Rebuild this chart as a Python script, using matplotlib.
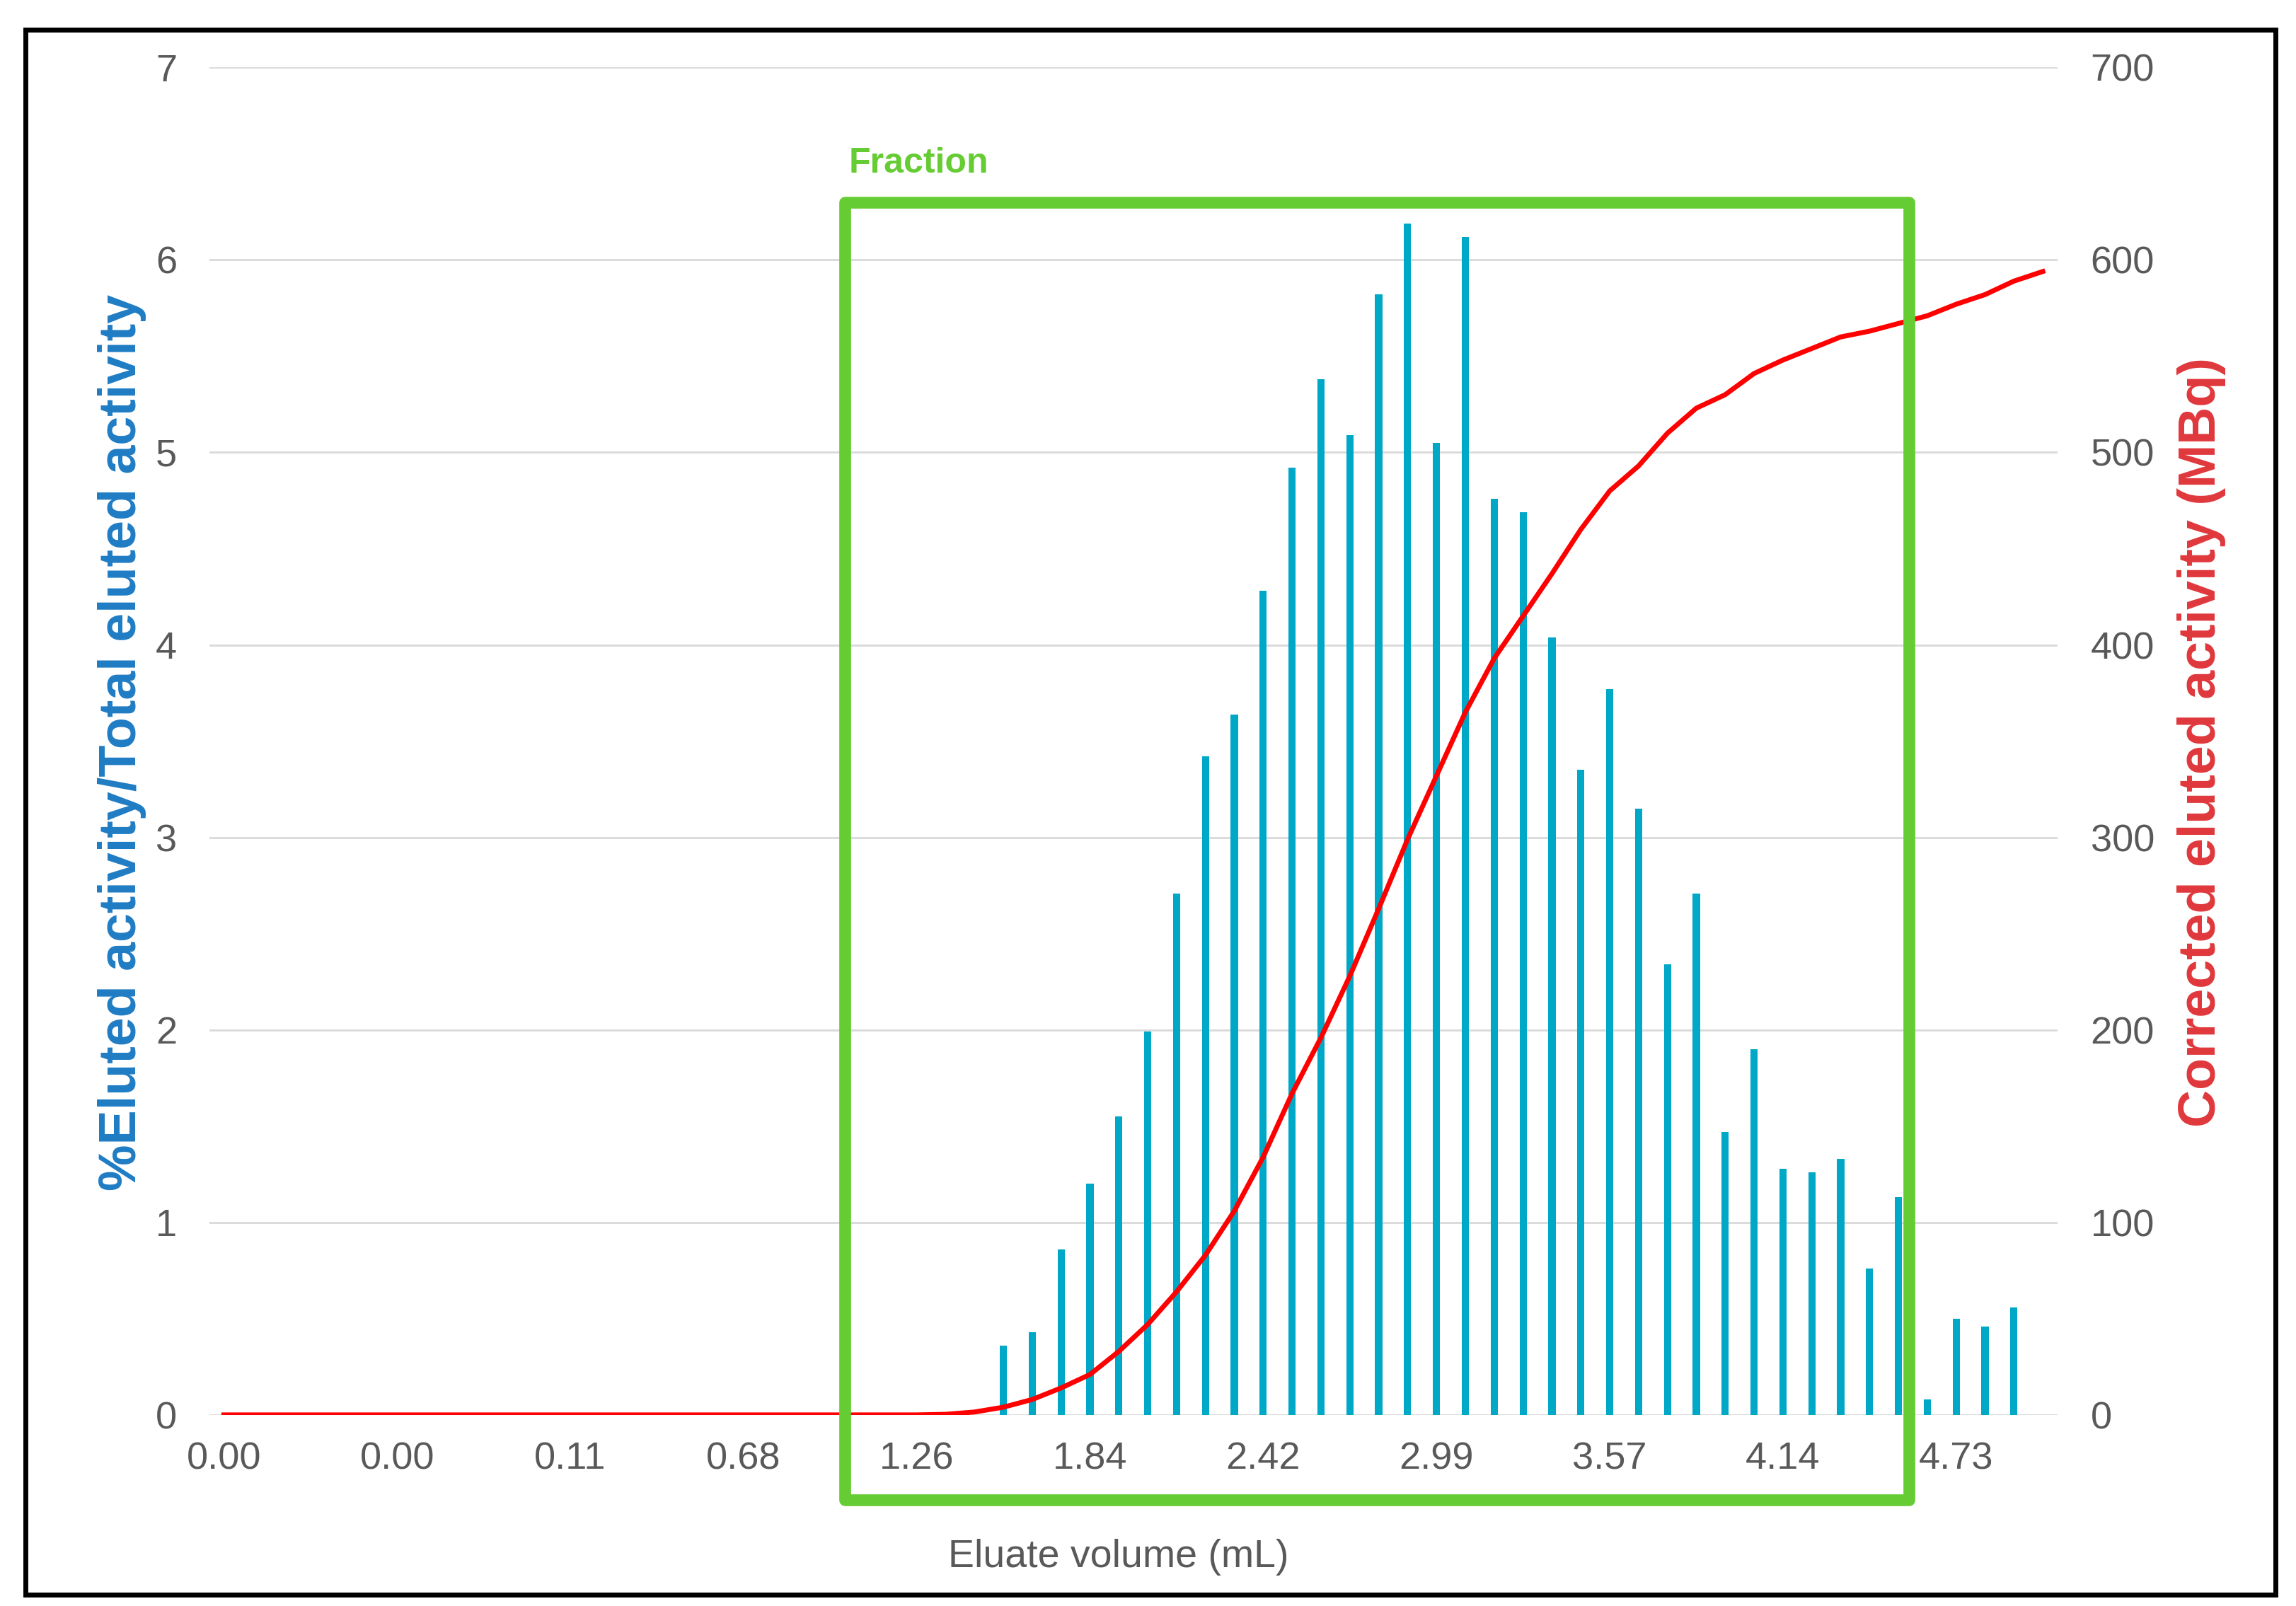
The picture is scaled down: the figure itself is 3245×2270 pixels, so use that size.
import matplotlib
matplotlib.use("Agg")
import matplotlib.pyplot as plt
from matplotlib.patches import Rectangle

plt.rcParams['font.family'] = ['Liberation Sans', 'DejaVu Sans']

# category index -> eluate fraction; labels shown every 6th category
tick_labels = ["0.00", "0.00", "0.11", "0.68", "1.26", "1.84",
               "2.42", "2.99", "3.57", "4.14", "4.73"]
n_cat = 64

# % eluted activity / total eluted activity (bars), categories 27..62
pct_eluted = [0.0] * 27 + [
    0.36, 0.43, 0.86, 1.20, 1.55, 1.99, 2.71, 3.42, 3.64, 4.28,
    4.92, 5.38, 5.09, 5.82, 6.19, 5.05, 6.12, 4.76, 4.69, 4.04,
    3.35, 3.77, 3.15, 2.34, 2.71, 1.47, 1.90, 1.28, 1.26, 1.33,
    0.76, 1.13, 0.08, 0.50, 0.46, 0.56,
] + [0.0]

# corrected eluted activity in MBq (line)
activity = [0.0] * 25 + [
    0.3, 1.5, 4, 8, 14, 21, 33, 47, 64, 83,
    106, 134, 167, 196, 228, 263, 299, 332, 365, 393,
    415, 437, 460, 480, 493, 510, 523, 530, 541, 548,
    554, 560, 563, 567, 571, 577, 582, 589, 594,
]

x = list(range(n_cat))

fig = plt.figure(figsize=(32.45, 22.7), dpi=100)
ax = fig.add_axes([0.0912, 0.119, 0.8048, 0.839])
ax2 = ax.twinx()

grid_color = "#D9D9D9"
tick_color = "#595959"

ax.bar(x, pct_eluted, width=0.25, color="#00A8C8", zorder=2)
ax.set_xlim(-0.5, n_cat - 0.5)
ax.set_ylim(0, 7)
ax.set_yticks(range(0, 8))
ax.set_xticks(range(0, 61, 6))
ax.set_xticklabels(tick_labels)
ax.yaxis.grid(True, color=grid_color, linewidth=2.0)
ax.set_axisbelow(True)
ax.tick_params(axis="both", length=0, labelsize=39, colors=tick_color)
ax.tick_params(axis="x", pad=27)
ax.tick_params(axis="y", pad=33)

ax2.plot(x, activity, color="#FF0000", linewidth=5.0, zorder=3)
ax2.set_ylim(0, 700)
ax2.set_yticks(range(0, 701, 100))
ax2.tick_params(axis="y", length=0, labelsize=39, colors=tick_color, pad=34)

for a in (ax, ax2):
    for s in a.spines.values():
        s.set_visible(False)

ax.set_xlabel("Eluate volume (mL)", fontsize=40, color=tick_color)
ax.xaxis.set_label_coords(0.492, -0.092)
ax.set_ylabel("%Eluted activity/Total eluted activity", fontsize=53,
              color="#1F7CC4", fontweight="bold")
ax.yaxis.set_label_coords(-0.034, 0.499)
ax2.set_ylabel("Corrected eluted activity (MBq)", fontsize=53,
               color="#E0383C", fontweight="bold", rotation=90)
ax2.yaxis.set_label_coords(1.065, 0.499)

# fraction box
green = "#66CC33"
ax2.add_patch(Rectangle((21.5, -44), 36.87, 674, fill=False, edgecolor=green,
                        linewidth=12, clip_on=False, zorder=4,
                        joinstyle="round"))
ax2.text(21.65, 650, "Fraction", color=green, fontsize=36,
         fontweight="bold", va="center", ha="left")

# outer frame
fig.patches.append(Rectangle((0.0111, 0.007), 0.98, 0.9745, fill=False,
                             edgecolor="black", linewidth=5,
                             transform=fig.transFigure, figure=fig))

fig.savefig("out.png", dpi=100, facecolor="white")
